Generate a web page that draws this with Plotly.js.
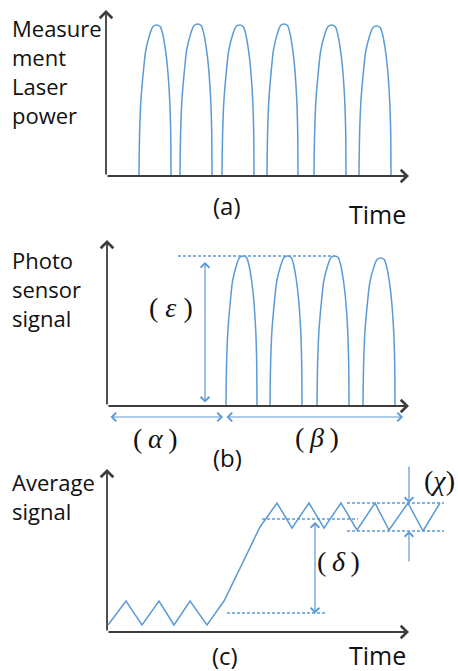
<!DOCTYPE html>
<html><head><meta charset="utf-8">
<script src="https://cdn.plot.ly/plotly-3.0.1.min.js"></script>
<style>html,body{margin:0;padding:0;background:#fff;}#chart{width:458px;height:671px;}</style>
</head><body><div id="chart"></div>
<script>
// ---- Pulse profile (fraction of pulse width, fraction of pulse height)
const archU = [0, 0.005, 0.02, 0.06, 0.15, 0.21, 0.34, 0.44, 0.55, 0.66, 0.74, 0.83, 0.89, 0.96, 0.99, 1];
const archV = [0, 0.12, 0.29, 0.5, 0.72, 0.83, 0.94, 0.99, 1, 0.99, 0.94, 0.83, 0.72, 0.5, 0.29, 0];

// ---- Panel (a): measurement laser power pulses (time units, power units)
const aStart = [33, 74, 116, 161, 208, 253];
const aEnd   = [65, 106, 148, 192, 240, 285];
const aPeak  = [151, 152, 151, 152, 151, 150];

// ---- Panel (b): photo sensor signal pulses
const bStart = [119, 163, 210, 256];
const bEnd   = [150, 195, 242, 288];
const bPeak  = [150, 150, 150, 148];
const bPeakLineX = [71, 228];
const bPeakLineY = [150, 150];

// ---- Panel (c): average signal
const cTime   = [1, 19, 35, 52, 67, 83, 100, 117, 153, 170, 185, 202, 217, 234, 250, 268, 282, 301, 316, 333];
const cSignal = [7, 31, 7, 31, 7, 31, 7, 31, 105, 129, 104, 129, 104, 129, 102, 129, 102, 129, 101, 129];
const cRefX0 = [155, 240, 240, 120];
const cRefX1 = [251, 337, 337, 218];
const cRefY  = [113, 129, 101, 19];

// ---- Text labels
const yLabelA = ["Measure", "ment", "Laser", "power"];
const yLabelB = ["Photo", "sensor", "signal"];
const yLabelC = ["Average", "signal"];
const panelTags = ["(a)", "(b)", "(c)"];
const timeLabel = "Time";

const W = 458, H = 671;
const BLUE = '#5b9bd5', AXIS = '#3d3d3d', TXT = '#111111';

function arches(starts, ends, peaks) {
  const xs = [], ys = [];
  for (let i = 0; i < starts.length; i++) {
    for (let j = 0; j < archU.length; j++) {
      xs.push(starts[i] + archU[j] * (ends[i] - starts[i]));
      ys.push(archV[j] * peaks[i]);
    }
    xs.push(null); ys.push(null);
  }
  return {xs, ys};
}

const A = arches(aStart, aEnd, aPeak);
const B = arches(bStart, bEnd, bPeak);

const traces = [
  {x: A.xs, y: A.ys, xaxis: 'x', yaxis: 'y', mode: 'lines', line: {color: BLUE, width: 1.5, shape: 'spline', smoothing: 0.8}, hoverinfo: 'skip'},
  {x: B.xs, y: B.ys, xaxis: 'x2', yaxis: 'y2', mode: 'lines', line: {color: BLUE, width: 1.5, shape: 'spline', smoothing: 0.8}, hoverinfo: 'skip'},
  {x: bPeakLineX, y: bPeakLineY, xaxis: 'x2', yaxis: 'y2', mode: 'lines', line: {color: BLUE, width: 1.3, dash: '3px,2px'}, hoverinfo: 'skip'},
  {x: cTime, y: cSignal, xaxis: 'x3', yaxis: 'y3', mode: 'lines', line: {color: BLUE, width: 1.5}, hoverinfo: 'skip'}
];
for (let i = 0; i < cRefY.length; i++) {
  traces.push({x: [cRefX0[i], cRefX1[i]], y: [cRefY[i], cRefY[i]], xaxis: 'x3', yaxis: 'y3', mode: 'lines',
    line: {color: BLUE, width: 1.3, dash: '3px,2px'}, hoverinfo: 'skip'});
}

function arrow(n, x0, y0, x1, y1, o) {
  const s = n === 1 ? '' : String(n);
  return Object.assign({
    xref: 'x' + s, yref: 'y' + s, axref: 'x' + s, ayref: 'y' + s,
    x: x1, y: y1, ax: x0, ay: y0, text: '', showarrow: true,
    arrowhead: 4, arrowsize: 1.35, arrowwidth: 1.8, arrowcolor: AXIS, standoff: 0, startstandoff: 0
  }, o || {});
}
const blueArrow = {arrowcolor: BLUE, arrowwidth: 1.2, arrowsize: 1.4};
const dbl = {arrowside: 'end+start', startarrowhead: 4, startarrowsize: 1.4};

function txt(t, px, py, size, family, xanchor) {
  return {xref: 'paper', yref: 'paper', x: px / W, y: 1 - py / H, text: t, showarrow: false,
    xanchor: xanchor || 'center', yanchor: 'middle', font: {size: size, family: family, color: TXT}};
}
const SANS = 'Open Sans, Noto Sans, sans-serif';
const SERIF = 'Liberation Serif, DejaVu Serif, serif';

const ann = [
  // axes
  arrow(1, 0, 0, 303, 0), arrow(1, 0, 0, 0, 166),
  arrow(2, 0, 0, 302, 0), arrow(2, 0, 0, 0, 166),
  arrow(3, 0, 0, 302, 0), arrow(3, 0, 0, 0, 163),
  // panel b dimension arrows
  arrow(2, 98, 2, 98, 144, Object.assign({}, blueArrow, dbl)),
  arrow(2, 2, -11, 116, -11, Object.assign({}, blueArrow, dbl)),
  arrow(2, 118, -11, 296, -11, Object.assign({}, blueArrow, dbl)),
  // panel c dimension arrows
  arrow(3, 208, 17, 208, 110, Object.assign({}, blueArrow, dbl)),
  arrow(3, 302, 167, 302, 129, blueArrow),
  arrow(3, 302, 69, 302, 101, blueArrow)
];

[28, 57, 86, 115].forEach((py, i) => ann.push(txt(yLabelA[i], 10, py, 22, SANS, 'left')));
[260, 289, 318].forEach((py, i) => ann.push(txt(yLabelB[i], 10, py, 22, SANS, 'left')));
[482, 511].forEach((py, i) => ann.push(txt(yLabelC[i], 10, py, 22, SANS, 'left')));
ann.push(txt(panelTags[0], 227, 205, 24, SANS));
ann.push(txt(panelTags[1], 227, 457, 24, SANS));
ann.push(txt(panelTags[2], 225, 655, 24, SANS));
ann.push(txt(timeLabel, 377, 214, 25, SANS));
ann.push(txt(timeLabel, 377, 655, 25, SANS));
ann.push(txt('( <i>ε</i> )', 171, 307, 28, SERIF));
ann.push(txt('(\u2009<i>α</i>\u2009)', 155, 438, 28, SERIF));
ann.push(txt('(\u2009<i>β</i>\u2009)', 317, 437, 28, SERIF));
ann.push(txt('(\u2009<i>δ</i>\u2009)', 338, 561, 28, SERIF));
ann.push(txt('(<i>χ</i>)', 457, 480, 28, SERIF, 'right'));

const hid = {visible: false, fixedrange: true};
const layout = {
  width: W, height: H, margin: {l: 0, r: 0, t: 0, b: 0},
  paper_bgcolor: '#ffffff', plot_bgcolor: '#ffffff', showlegend: false,
  xaxis:  Object.assign({domain: [0, 1], range: [-106, 352], anchor: 'y'}, hid),
  yaxis:  Object.assign({domain: [1 - 230 / H, 1], range: [-54, 176], anchor: 'x'}, hid),
  xaxis2: Object.assign({domain: [0, 1], range: [-107, 351], anchor: 'y2'}, hid),
  yaxis2: Object.assign({domain: [1 - 450 / H, 1 - 230 / H], range: [-44, 176], anchor: 'x2'}, hid),
  xaxis3: Object.assign({domain: [0, 1], range: [-107, 351], anchor: 'y3'}, hid),
  yaxis3: Object.assign({domain: [0, 1 - 450 / H], range: [-39, 182], anchor: 'x3'}, hid),
  annotations: ann
};
Plotly.newPlot('chart', traces, layout, {displayModeBar: false, staticPlot: true});
</script>
</body></html>
